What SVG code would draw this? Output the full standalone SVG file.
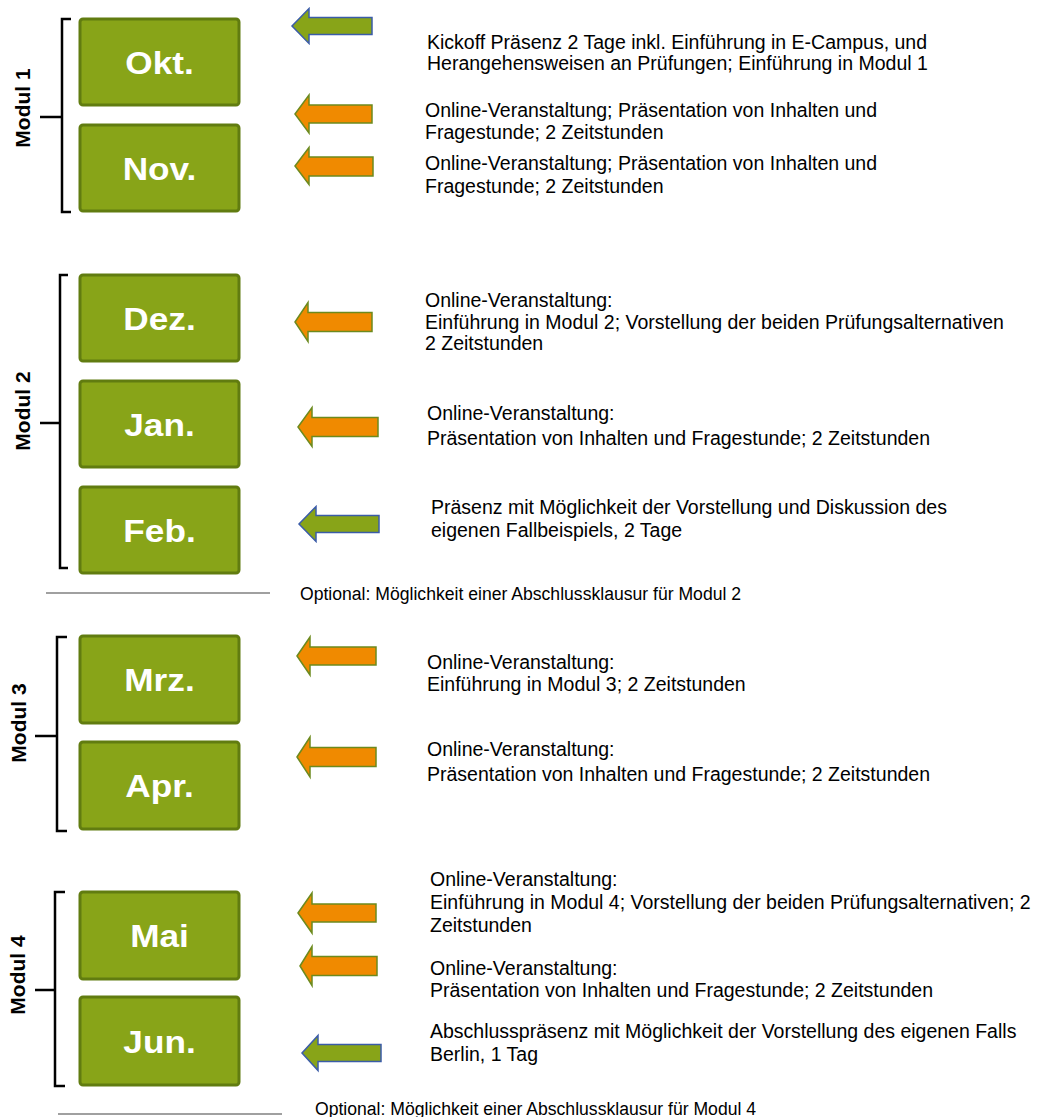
<svg xmlns="http://www.w3.org/2000/svg" width="1039" height="1117" viewBox="0 0 1039 1117">
<style>
.box{fill:#88A418;stroke:#617C10;stroke-width:3}
.lbl{font-family:"Liberation Sans",Arial,sans-serif;font-weight:bold;font-size:32px;fill:#fff;text-anchor:middle}
.mod{font-family:"Liberation Sans",Arial,sans-serif;font-weight:bold;font-size:21px;fill:#000;text-anchor:middle}
.br{fill:none;stroke:#000;stroke-width:2.5}
.sep{stroke:#808080;stroke-width:1.5}
.txt{font-family:"Liberation Sans",Arial,sans-serif;font-size:19.5px;fill:#000}
.opt{font-family:"Liberation Sans",Arial,sans-serif;font-size:17.6px;fill:#000}
.ao{fill:#F08A00;stroke:#6C8A1E;stroke-width:1.5}
.ag{fill:#88A418;stroke:#3B5CA8;stroke-width:1.5}
</style>
<rect width="1039" height="1117" fill="#fff"/>

<g id="modul1">
<path class="br" d="M71,19 L62,19 L62,212 L71,212 M40,117 L62,117"/>
<text class="mod" transform="translate(30,108) rotate(-90)">Modul 1</text>
</g>
<g id="okt"><rect class="box" x="80" y="19" width="159" height="86" rx="3"/><text class="lbl" transform="translate(159.5,74) scale(1.1,1)">Okt.</text></g>
<g id="nov"><rect class="box" x="80" y="125" width="159" height="86" rx="3"/><text class="lbl" transform="translate(159.5,180) scale(1.1,1)">Nov.</text></g>

<g id="modul2">
<path class="br" d="M68,275 L60,275 L60,568 L68,568 M40,423 L60,423"/>
<text class="mod" transform="translate(30,411) rotate(-90)">Modul 2</text>
</g>
<g id="dez"><rect class="box" x="80" y="275" width="159" height="86" rx="3"/><text class="lbl" transform="translate(159.5,330) scale(1.1,1)">Dez.</text></g>
<g id="jan"><rect class="box" x="80" y="381" width="159" height="86" rx="3"/><text class="lbl" transform="translate(159.5,436) scale(1.1,1)">Jan.</text></g>
<g id="feb"><rect class="box" x="80" y="487" width="159" height="86" rx="3"/><text class="lbl" transform="translate(159.5,542) scale(1.1,1)">Feb.</text></g>

<g id="modul3">
<path class="br" d="M67,637 L57,637 L57,831 L67,831 M35,736 L57,736"/>
<text class="mod" transform="translate(26,723) rotate(-90)">Modul 3</text>
</g>
<g id="mrz"><rect class="box" x="80" y="636" width="159" height="87" rx="3"/><text class="lbl" transform="translate(159.5,691) scale(1.1,1)">Mrz.</text></g>
<g id="apr"><rect class="box" x="80" y="742" width="159" height="87" rx="3"/><text class="lbl" transform="translate(159.5,797) scale(1.1,1)">Apr.</text></g>

<g id="modul4">
<path class="br" d="M65,892 L55,892 L55,1086 L65,1086 M35,990 L55,990"/>
<text class="mod" transform="translate(25,975) rotate(-90)">Modul 4</text>
</g>
<g id="mai"><rect class="box" x="80" y="892" width="159" height="87" rx="3"/><text class="lbl" transform="translate(159.5,947) scale(1.1,1)">Mai</text></g>
<g id="jun"><rect class="box" x="80" y="997" width="159" height="88" rx="3"/><text class="lbl" transform="translate(159.5,1053) scale(1.1,1)">Jun.</text></g>

<g id="connectors">
<path class="ag" d="M292,26 L309,8.5 L309,17.5 L372,17.5 L372,34.5 L309,34.5 L309,43.5 Z"/>
<path class="ao" d="M295,114 L309,95 L309,105 L372,105 L372,123 L309,123 L309,133 Z"/>
<path class="ao" d="M295,166 L309,147.5 L309,157 L373,157 L373,176 L309,176 L309,184.5 Z"/>
<path class="ao" d="M295,322 L308,302.5 L308,312.5 L372,312.5 L372,331.5 L308,331.5 L308,341.5 Z"/>
<path class="ao" d="M298,427 L312,407.5 L312,417.5 L378,417.5 L378,436.5 L312,436.5 L312,446.5 Z"/>
<path class="ag" d="M299,524 L316,506.5 L316,515.5 L379,515.5 L379,532.5 L316,532.5 L316,541.5 Z"/>
<path class="ao" d="M297,656 L310,637 L310,647 L376,647 L376,665 L310,665 L310,675 Z"/>
<path class="ao" d="M297,757 L310,737 L310,747.5 L376,747.5 L376,766.5 L310,766.5 L310,777 Z"/>
<path class="ao" d="M298,913 L312,893 L312,904 L376,904 L376,922 L312,922 L312,933 Z"/>
<path class="ao" d="M300,966 L312,946.5 L312,956.5 L377,956.5 L377,975.5 L312,975.5 L312,985.5 Z"/>
<path class="ag" d="M302,1053 L318,1035.5 L318,1044.5 L381,1044.5 L381,1061.5 L318,1061.5 L318,1070.5 Z"/>
</g>

<g id="separators">
<line class="sep" x1="46" y1="593" x2="270" y2="593"/>
<line class="sep" x1="58" y1="1114" x2="282" y2="1114"/>
</g>

<g id="texts">
<text class="txt" x="427" y="49">Kickoff Präsenz 2 Tage inkl. Einführung in E-Campus, und</text>
<text class="txt" x="427" y="70">Herangehensweisen an Prüfungen; Einführung in Modul 1</text>
<text class="txt" x="425" y="117">Online-Veranstaltung; Präsentation von Inhalten und</text>
<text class="txt" x="425" y="139">Fragestunde; 2 Zeitstunden</text>
<text class="txt" x="425" y="170">Online-Veranstaltung; Präsentation von Inhalten und</text>
<text class="txt" x="425" y="193">Fragestunde; 2 Zeitstunden</text>
<text class="txt" x="425" y="307">Online-Veranstaltung:</text>
<text class="txt" x="425" y="329">Einführung in Modul 2; Vorstellung der beiden Prüfungsalternativen</text>
<text class="txt" x="425" y="350">2 Zeitstunden</text>
<text class="txt" x="427" y="420">Online-Veranstaltung:</text>
<text class="txt" x="427" y="445">Präsentation von Inhalten und Fragestunde; 2 Zeitstunden</text>
<text class="txt" x="431" y="514">Präsenz mit Möglichkeit der Vorstellung und Diskussion des</text>
<text class="txt" x="431" y="537">eigenen Fallbeispiels, 2 Tage</text>
<text class="opt" x="300" y="600">Optional: Möglichkeit einer Abschlussklausur für Modul 2</text>
<text class="txt" x="427" y="669">Online-Veranstaltung:</text>
<text class="txt" x="427" y="691">Einführung in Modul 3; 2 Zeitstunden</text>
<text class="txt" x="427" y="756">Online-Veranstaltung:</text>
<text class="txt" x="427" y="781">Präsentation von Inhalten und Fragestunde; 2 Zeitstunden</text>
<text class="txt" x="430" y="886">Online-Veranstaltung:</text>
<text class="txt" x="430" y="909">Einführung in Modul 4; Vorstellung der beiden Prüfungsalternativen; 2</text>
<text class="txt" x="430" y="932">Zeitstunden</text>
<text class="txt" x="430" y="975">Online-Veranstaltung:</text>
<text class="txt" x="430" y="997">Präsentation von Inhalten und Fragestunde; 2 Zeitstunden</text>
<text class="txt" x="430" y="1038">Abschlusspräsenz mit Möglichkeit der Vorstellung des eigenen Falls</text>
<text class="txt" x="430" y="1061">Berlin, 1 Tag</text>
<text class="opt" x="315" y="1115">Optional: Möglichkeit einer Abschlussklausur für Modul 4</text>
</g>
</svg>
